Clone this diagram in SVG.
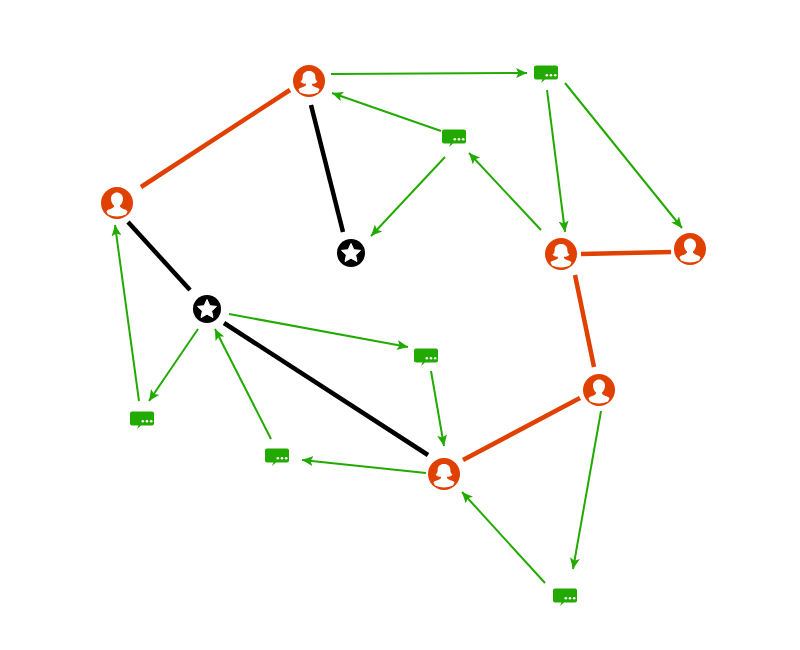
<svg xmlns="http://www.w3.org/2000/svg" width="800" height="650" viewBox="0 0 800 650">
<defs>
<marker id="arr" markerUnits="userSpaceOnUse" markerWidth="12" markerHeight="10" refX="11" refY="5" orient="auto"><path d="M0,0L11,5L0,10L2.500,5Z" fill="#22aa00"/></marker>
<g id="male"><circle r="16" fill="#e04000"/><path d="M-10.500,8.500 C-9.500,6 -5,6.500 -3,3.500 L-3,2.500 C-4.800,1 -6,-1.500 -6,-4.500 C-6,-8 -3,-10.500 0,-10.500 C3,-10.500 6,-8 6,-4.500 C6,-1.500 4.800,1 3,2.500 L3,3.500 C5,6.500 9.500,6 10.500,8.500 L9,11.500 Q0,15.500 -9,11.500Z" fill="#fff"/></g>
<g id="female"><circle r="16" fill="#e04000"/><path d="M-10.500,8.500 C-9.500,6 -5,7 -3,4 L-3,2.800 C-5.500,2.800 -7.500,2 -8.500,0.500 C-6.500,-0.500 -6.300,-3 -6.300,-5 C-6.300,-8 -3,-10 0,-10 C3,-10 6.300,-8 6.300,-5 C6.300,-3 6.500,-0.500 8.500,0.500 C7.500,2 5.500,2.800 3,2.800 L3,4 C5,7 9.500,6 10.500,8.500 L9,11.500 Q0,15.500 -9,11.500Z" fill="#fff"/></g>
<g id="star"><circle r="14" fill="#000"/><path d="M0,-9.500 L2.900,-3.300 L9.500,-2.600 L4.600,2 L6,8.500 L0,5.200 L-6,8.500 L-4.600,2 L-9.500,-2.600 L-2.900,-3.300Z" fill="#fff" stroke="#fff" stroke-width="1" stroke-linejoin="round"/></g>
<g id="msg"><path d="M-10,-7.500 H10 Q12,-7.500 12,-5.500 V4.500 Q12,6.500 10,6.500 H-1 L-5,10 L-3.500,6.500 H-10 Q-12,6.500 -12,4.500 V-5.500 Q-12,-7.500 -10,-7.500Z" fill="#22aa00"/><circle cx="0.800" cy="2.300" r="1.300" fill="#fff"/><circle cx="5" cy="2.300" r="1.300" fill="#fff"/><circle cx="9.200" cy="2.300" r="1.300" fill="#fff"/></g>
</defs>
<style>
.o{stroke:#e04000;stroke-width:4.500;fill:none}
.k{stroke:#000;stroke-width:4.500;fill:none}
.g{stroke:#22aa00;stroke-width:2;fill:none;marker-end:url(#arr)}
</style>
<g id="connectors">
<line class="o" x1="141" y1="187" x2="290" y2="90"/>
<line class="k" x1="311" y1="105" x2="343" y2="232"/>
<line class="k" x1="128" y1="222" x2="190" y2="290"/>
<line class="k" x1="224" y1="323" x2="428" y2="455"/>
<line class="o" x1="581" y1="254" x2="671" y2="252"/>
<line class="o" x1="575" y1="275" x2="594" y2="367"/>
<line class="o" x1="463" y1="460" x2="580" y2="398"/>
<line class="g" x1="331" y1="74" x2="527" y2="73"/>
<line class="g" x1="441" y1="131" x2="332" y2="93"/>
<line class="g" x1="445" y1="157" x2="371" y2="236"/>
<line class="g" x1="547" y1="90" x2="565" y2="232"/>
<line class="g" x1="565" y1="83" x2="682" y2="228"/>
<line class="g" x1="541" y1="230" x2="469" y2="153"/>
<line class="g" x1="229" y1="314" x2="408" y2="347"/>
<line class="g" x1="431" y1="371" x2="444" y2="446"/>
<line class="g" x1="198" y1="329" x2="149" y2="401"/>
<line class="g" x1="139" y1="401" x2="115" y2="225"/>
<line class="g" x1="271" y1="439" x2="215" y2="329"/>
<line class="g" x1="426" y1="473" x2="302" y2="460"/>
<line class="g" x1="601" y1="411" x2="573" y2="569"/>
<line class="g" x1="545" y1="583" x2="462" y2="492"/>
</g>
<g id="n1"><use href="#female" x="309" y="81"/></g>
<g id="n2"><use href="#male" x="117" y="203"/></g>
<g id="n3"><use href="#female" x="561" y="254"/></g>
<g id="n4"><use href="#male" x="690" y="249"/></g>
<g id="n5"><use href="#male" x="599" y="390"/></g>
<g id="n6"><use href="#female" x="444" y="474"/></g>
<g id="s1"><use href="#star" x="351" y="253"/></g>
<g id="s2"><use href="#star" x="207" y="309"/></g>
<g id="m1"><use href="#msg" x="546" y="73"/></g>
<g id="m2"><use href="#msg" x="454" y="137"/></g>
<g id="m3"><use href="#msg" x="426" y="356"/></g>
<g id="m4"><use href="#msg" x="142" y="419"/></g>
<g id="m5"><use href="#msg" x="277" y="456"/></g>
<g id="m6"><use href="#msg" x="565" y="596"/></g>
</svg>
